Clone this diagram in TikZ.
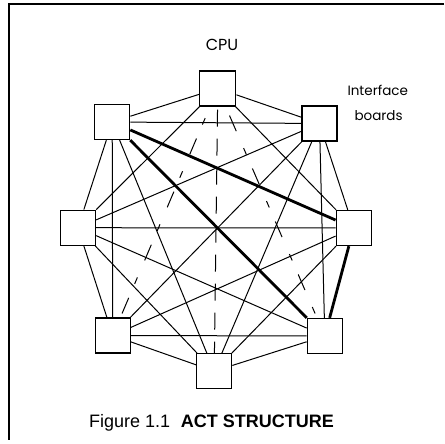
\documentclass[tikz,border=0pt]{standalone}
\usepackage{fontspec}
\setmainfont{Liberation Sans}
\newfontfamily\geofont{Poppins}
\usetikzlibrary{backgrounds}
\begin{document}
\begin{tikzpicture}[x=1pt,y=-1pt,
  board/.style={draw,line width=1.3pt,minimum width=35pt,minimum height=35pt,inner sep=0pt,fill=white},
  link/.style={line width=1pt},
  boldlink/.style={line width=2.8pt},
  dotlink/.style={line width=1pt,dash pattern=on 17pt off 18.5pt on 7pt off 15.2pt},
  dashlink/.style={line width=1pt,dash pattern=on 17pt off 12pt},
  frameline/.style={line width=2pt}]
\useasboundingbox (0,0) rectangle (444,444);
% frame
\coordinate (f1) at (444,4.5);
\coordinate (f2) at (9,4.5);
\coordinate (f3) at (9,440);
\draw[frameline] (f1) -- (f2) -- (f3);
% boards
\node[board,minimum width=36pt] (T)  at (217.8,88.4) {};
\node[board] (UL) at (112.2,122) {};
\node[board] (UR) at (319.5,123.5) {};
\node[board] (L)  at (78,227.7) {};
\node[board] (R)  at (353.7,228) {};
\node[board] (LL) at (112.7,335.5) {};
\node[board] (LR) at (324.8,336) {};
\node[board] (B)  at (214.2,371.2) {};
% connections
\begin{scope}[on background layer]
\foreach \a/\b in {T/UL,T/UR,T/L,T/R,
  UL/UR,UL/L,UL/LL,UL/B,
  UR/L,UR/R,UR/LL,UR/LR,UR/B,
  L/R,L/LL,L/LR,L/B,
  R/LL,R/B,
  LL/LR,LL/B,
  LR/B}
  \draw[link] (\a) -- (\b);
\draw[dashlink,dash phase=26pt] (T) -- (B);
\draw[dotlink,dash phase=22.9pt] (T) -- (LL);
\draw[dotlink,dash phase=47.9pt] (T) -- (LR);
\draw[boldlink] (UL) -- (R);
\draw[boldlink] (UL) -- (LR);
\draw[boldlink] (R) -- (LR);
\end{scope}
% labels
\node[font=\geofont\fontsize{16}{18}\selectfont] (cpu) at (222,45) {CPU};
\node[font=\geofont\fontsize{13.5}{16}\selectfont,anchor=west] (intf) at (344,90) {Interface};
\node[font=\geofont\fontsize{13.5}{16}\selectfont,anchor=west] (brd) at (351,116) {boards};
\node[font=\fontsize{18}{20}\selectfont,anchor=base] (cap) at (211.5,427) {Figure 1.1\hspace{0.6em}\textbf{ACT STRUCTURE}};
\end{tikzpicture}
\end{document}
